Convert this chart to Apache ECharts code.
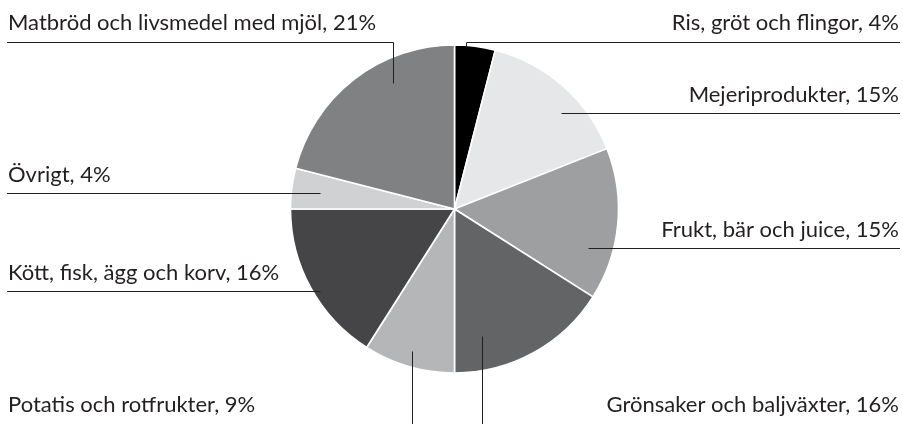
<!DOCTYPE html>
<html>
<head>
<meta charset="utf-8">
<script src="https://cdn.jsdelivr.net/npm/echarts@6/dist/echarts.min.js"></script>
<style>
  html, body { margin: 0; padding: 0; background: #ffffff; }
  #chart { width: 903px; height: 424px; }
</style>
</head>
<body>
<div id="chart"></div>
<script>
// Food groups, clockwise from twelve o'clock
const categories = [
  'Ris, gröt och flingor',
  'Mejeriprodukter',
  'Frukt, bär och juice',
  'Grönsaker och baljväxter',
  'Potatis och rotfrukter',
  'Kött, fisk, ägg och korv',
  'Övrigt',
  'Matbröd och livsmedel med mjöl'
];
const shares = [4, 15, 15, 16, 9, 16, 4, 21];
const sliceColors = ['#000000', '#e6e7e8', '#9d9fa1', '#636466', '#b5b6b8', '#454547', '#d0d1d3', '#808183'];

// Pie geometry (px)
const CX = 454.5, CY = 209, R = 164;
const LEFT = 7, RIGHT = 900, BOTTOM = 424;
const TEXT_GAP = 19;

// Leader for each label: anchor inside the slice given as angle (clockwise from top)
// and fraction of the radius; 'elbow' runs up to a horizontal line, 'flat' runs straight
// out to the page edge, 'drop' falls straight down to the bottom edge.
const guides = [
  { angle: 4.0,   frac: 0.99,  kind: 'elbow', side: 'right', lineY: 42 },
  { angle: 48.0,  frac: 0.874, kind: 'flat',  side: 'right' },
  { angle: 106.3, frac: 0.848, kind: 'flat',  side: 'right' },
  { angle: 167.8, frac: 0.793, kind: 'drop',  side: 'right', textY: 405 },
  { angle: 196.7, frac: 0.904, kind: 'drop',  side: 'left',  textY: 405 },
  { angle: 238.6, frac: 0.960, kind: 'flat',  side: 'left' },
  { angle: 276.8, frac: 0.829, kind: 'flat',  side: 'left' },
  { angle: 334.0, frac: 0.855, kind: 'elbow', side: 'left',  lineY: 42 }
];

// keep 1px leaders on the pixel grid
const crisp = v => Math.round(v) + 0.5;

const pieData = categories.map((name, i) => ({
  name: name,
  value: shares[i],
  itemStyle: { color: sliceColors[i] }
}));

const basePie = {
  type: 'pie',
  center: [CX, CY],
  radius: [0, R],
  startAngle: 90,
  clockwise: true,
  avoidLabelOverlap: false,
  silent: true,
  emphasis: { disabled: true }
};

const chart = echarts.init(document.getElementById('chart'), null, { renderer: 'canvas' });

chart.setOption({
  backgroundColor: '#ffffff',
  animation: false,
  series: [
    // filled slices
    Object.assign({}, basePie, {
      z: 1,
      data: pieData,
      itemStyle: { borderColor: '#ffffff', borderWidth: 1.6 },
      label: { show: false },
      labelLine: { show: false }
    }),
    // same slices, unfilled, carrying the labels and leaders on top
    Object.assign({}, basePie, {
      z: 3,
      data: pieData.map(d => ({ name: d.name, value: d.value })),
      itemStyle: { color: 'rgba(0,0,0,0)', borderWidth: 0 },
      label: {
        show: true,
        position: 'outside',
        formatter: '{b}, {c}%',
        width: 440,
        overflow: 'none',
        fontFamily: 'Lato',
        fontSize: 22,
        color: '#231f20'
      },
      labelLine: {
        show: true,
        showAbove: true,
        smooth: false,
        lineStyle: { color: '#231f20', width: 1, opacity: 1 }
      },
      labelLayout: function (p) {
        const g = guides[p.dataIndex];
        const a = g.angle * Math.PI / 180;
        const ax = crisp(CX + R * g.frac * Math.sin(a));
        const ay = crisp(CY - R * g.frac * Math.cos(a));
        const edgeX = g.side === 'left' ? LEFT : RIGHT;
        let pts, ty;
        if (g.kind === 'elbow') {
          const ly = g.lineY + 0.5;
          pts = [[ax, ay], [ax, ly], [edgeX, ly]];
          ty = g.lineY - TEXT_GAP;
        } else if (g.kind === 'flat') {
          pts = [[ax, ay], [edgeX, ay]];
          ty = ay - TEXT_GAP;
        } else {
          pts = [[ax, ay], [ax, BOTTOM]];
          ty = g.textY;
        }
        return {
          x: g.side === 'left' ? 8 : 899,
          y: ty,
          align: g.side,
          verticalAlign: 'middle',
          labelLinePoints: pts
        };
      }
    })
  ]
});
</script>
</body>
</html>
